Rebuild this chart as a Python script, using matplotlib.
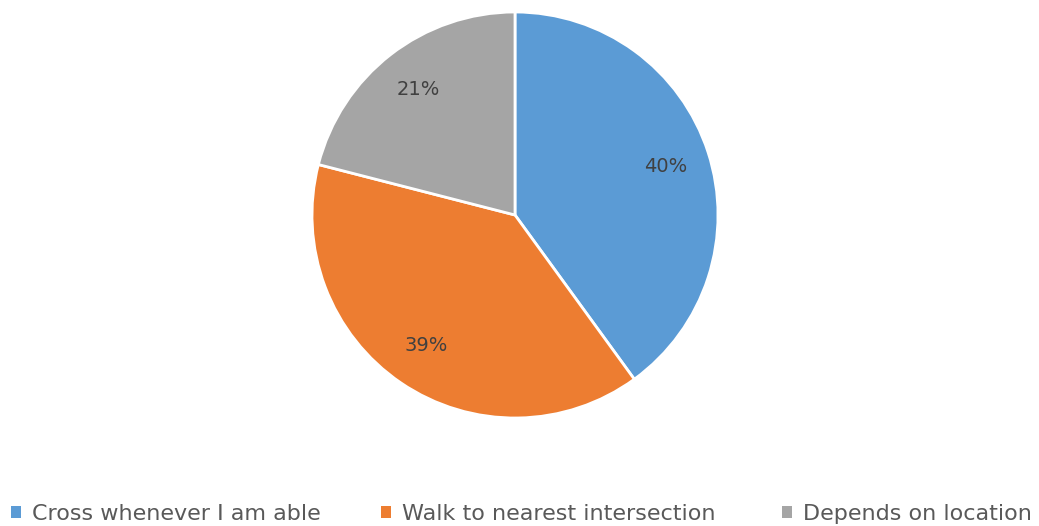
import matplotlib
matplotlib.use("Agg")
import matplotlib.pyplot as plt

categories = ["Cross whenever I am able", "Walk to nearest intersection", "Depends on location"]
values = [40, 39, 21]
colors = ["#5B9BD5", "#ED7D31", "#A5A5A5"]

W, H = 1039, 526
fig = plt.figure(figsize=(W / 100, H / 100), dpi=100)
cx, cy, r = 515, 215, 203
ax = fig.add_axes([(cx - r) / W, 1 - (cy + r) / H, 2 * r / W, 2 * r / H])
wedges, texts, autotexts = ax.pie(
    values, colors=colors, startangle=90, counterclock=False,
    autopct="%1.0f%%", pctdistance=0.78,
    wedgeprops=dict(edgecolor="white", linewidth=2),
    textprops=dict(color="#404040", fontsize=14),
)
ax.set_xlim(-1.0, 1.0)
ax.set_ylim(-1.0, 1.0)
ax.set_aspect("equal")

# legend entries placed individually, as in the reference
legend_left_px = [11, 381, 782]
for w, lab, x in zip(wedges, categories, legend_left_px):
    leg = fig.legend([w], [lab], loc="lower left", frameon=False,
                     bbox_to_anchor=(x / W, 0.004), fontsize=16,
                     handlelength=0.45, handleheight=0.45, handletextpad=0.5,
                     borderpad=0, borderaxespad=0)
    for h in leg.legend_handles:
        h.set_linewidth(0)
    for t in leg.get_texts():
        t.set_color("#595959")

fig.savefig("out.png", dpi=100)
